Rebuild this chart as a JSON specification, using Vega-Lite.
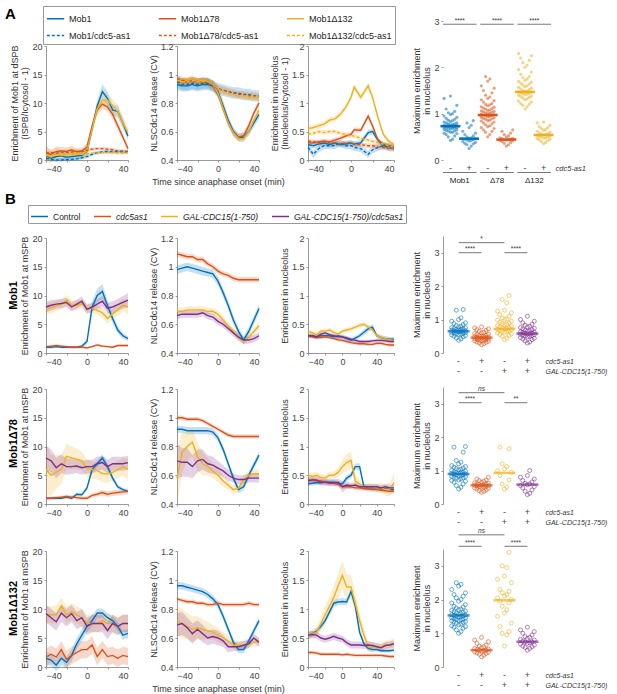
{
"$schema": "https://vega.github.io/schema/vega-lite/v6.json",
"padding": {"left": 5, "top": 5, "right": 2, "bottom": 2},
"background": "white",
"config": {
  "font": "Liberation Sans",
  "view": {"stroke": null},
  "axis": {"grid": false, "domainColor": "#7f7f7f", "domainWidth": 0.8, "tickColor": "#7f7f7f", "tickWidth": 0.8, "tickSize": 2, "labelColor": "#444444", "labelFontSize": 9, "labelPadding": 2, "titleColor": "#333333", "titleFontSize": 9, "titleFontWeight": "normal", "titlePadding": 2, "titleLineHeight": 10}
},
"datasets": {
"lines": [
{"p":"A1","s":"Mob1","t":[-40,-35,-30,-25,-20,-15,-10,-5,0,5,10,15,20,25,30,35,40],"m":[0.8,0.3,0.6,0.7,0.5,0.6,0.7,0.8,1.5,5.5,9.5,12.0,10.8,8.8,8.5,6.5,4.2],"e":[0.9,0.6,0.7,0.7,0.6,0.6,0.6,0.6,0.7,0.9,1.0,1.3,1.2,1.0,1.0,0.9,0.8]},
{"p":"A1","s":"Mob1Δ78","t":[-40,-35,-30,-25,-20,-15,-10,-5,0,5,10,15,20,25,30,35,40],"m":[1.2,1.0,1.5,1.6,1.5,1.8,1.4,1.6,2.3,6.0,8.8,9.8,9.3,8.0,6.0,4.0,2.0],"e":[1.2,0.8,0.8,0.7,0.7,0.7,0.6,0.6,0.6,0.7,0.8,0.8,0.8,0.8,0.7,0.6,0.5]},
{"p":"A1","s":"Mob1Δ132","t":[-40,-35,-30,-25,-20,-15,-10,-5,0,5,10,15,20,25,30,35,40],"m":[1.0,0.5,1.2,0.8,1.0,1.1,1.3,1.0,1.5,5.5,9.0,10.5,10.5,9.5,8.5,6.5,4.8],"e":[1.5,1.0,1.0,1.0,1.0,0.9,0.8,0.8,0.8,1.0,1.2,1.3,1.3,1.2,1.2,1.1,1.0]},
{"p":"A1","s":"Mob1/cdc5-as1","t":[-40,-35,-30,-25,-20,-15,-10,-5,0,5,10,15,20,25,30,35,40],"m":[0.3,0.1,0.0,0.0,0.1,0.1,0.2,0.4,0.6,1.0,1.3,1.4,1.5,1.4,1.5,1.4,1.4],"e":[0.3,0.3,0.3,0.3,0.3,0.3,0.3,0.3,0.3,0.3,0.3,0.3,0.3,0.3,0.3,0.3,0.3]},
{"p":"A1","s":"Mob1Δ78/cdc5-as1","t":[-40,-35,-30,-25,-20,-15,-10,-5,0,5,10,15,20,25,30,35,40],"m":[1.2,1.3,1.2,1.4,1.3,1.4,1.5,1.5,1.7,1.9,2.0,2.0,1.9,1.8,1.6,1.6,1.5],"e":[0.3,0.3,0.3,0.3,0.3,0.3,0.3,0.3,0.3,0.3,0.3,0.3,0.3,0.3,0.3,0.3,0.3]},
{"p":"A1","s":"Mob1Δ132/cdc5-as1","t":[-40,-35,-30,-25,-20,-15,-10,-5,0,5,10,15,20,25,30,35,40],"m":[0.8,0.8,0.9,0.9,1.0,1.0,1.0,1.0,1.1,1.2,1.2,1.3,1.3,1.3,1.2,1.2,1.3],"e":[0.3,0.3,0.3,0.3,0.3,0.3,0.3,0.3,0.3,0.3,0.3,0.3,0.3,0.3,0.3,0.3,0.3]},
{"p":"A2","s":"Mob1","t":[-40,-35,-30,-25,-20,-15,-10,-5,0,5,10,15,20,25,30,35,40],"m":[0.93,0.92,0.92,0.93,0.92,0.93,0.93,0.92,0.88,0.78,0.68,0.6,0.56,0.56,0.6,0.66,0.72],"e":[0.04,0.04,0.04,0.04,0.04,0.04,0.04,0.04,0.04,0.04,0.03,0.03,0.03,0.03,0.03,0.03,0.03]},
{"p":"A2","s":"Mob1Δ78","t":[-40,-35,-30,-25,-20,-15,-10,-5,0,5,10,15,20,25,30,35,40],"m":[0.96,0.95,0.95,0.96,0.95,0.95,0.94,0.92,0.86,0.76,0.66,0.59,0.56,0.57,0.64,0.73,0.8],"e":[0.025,0.025,0.025,0.025,0.025,0.025,0.025,0.025,0.025,0.025,0.025,0.025,0.025,0.025,0.025,0.025,0.025]},
{"p":"A2","s":"Mob1Δ132","t":[-40,-35,-30,-25,-20,-15,-10,-5,0,5,10,15,20,25,30,35,40],"m":[0.96,0.95,0.96,0.97,0.95,0.96,0.95,0.93,0.87,0.76,0.66,0.59,0.55,0.55,0.6,0.68,0.75],"e":[0.025,0.025,0.025,0.025,0.025,0.025,0.025,0.025,0.025,0.025,0.025,0.025,0.025,0.025,0.025,0.025,0.025]},
{"p":"A2","s":"Mob1/cdc5-as1","t":[-40,-35,-30,-25,-20,-15,-10,-5,0,5,10,15,20,25,30,35,40],"m":[0.95,0.93,0.93,0.94,0.93,0.94,0.94,0.92,0.9,0.89,0.88,0.87,0.87,0.86,0.86,0.85,0.85],"e":[0.04,0.04,0.04,0.04,0.04,0.04,0.04,0.04,0.04,0.04,0.04,0.04,0.04,0.04,0.04,0.04,0.04]},
{"p":"A2","s":"Mob1Δ78/cdc5-as1","t":[-40,-35,-30,-25,-20,-15,-10,-5,0,5,10,15,20,25,30,35,40],"m":[0.97,0.96,0.95,0.96,0.95,0.95,0.95,0.93,0.9,0.89,0.88,0.87,0.86,0.86,0.85,0.85,0.84],"e":[0.025,0.025,0.025,0.025,0.025,0.025,0.025,0.025,0.025,0.025,0.025,0.025,0.025,0.025,0.025,0.025,0.025]},
{"p":"A2","s":"Mob1Δ132/cdc5-as1","t":[-40,-35,-30,-25,-20,-15,-10,-5,0,5,10,15,20,25,30,35,40],"m":[0.96,0.95,0.95,0.96,0.95,0.95,0.95,0.93,0.9,0.88,0.87,0.86,0.85,0.85,0.84,0.84,0.84],"e":[0.025,0.025,0.025,0.025,0.025,0.025,0.025,0.025,0.025,0.025,0.025,0.025,0.025,0.025,0.025,0.025,0.025]},
{"p":"A3","s":"Mob1","t":[-40,-35,-30,-25,-20,-15,-10,-5,0,3,9,16,20,25,30,35,40],"m":[0.27,0.25,0.28,0.3,0.27,0.3,0.27,0.28,0.3,0.28,0.3,0.48,0.5,0.35,0.25,0.25,0.22],"e":[0.05,0.05,0.05,0.05,0.05,0.05,0.05,0.05,0.05,0.05,0.05,0.05,0.05,0.05,0.05,0.05,0.05]},
{"p":"A3","s":"Mob1Δ78","t":[-40,-35,-30,-25,-20,-15,-10,-5,0,3,9,16,20,25,30,35,40],"m":[0.3,0.3,0.32,0.33,0.32,0.35,0.38,0.42,0.45,0.53,0.52,0.77,0.6,0.35,0.28,0.25,0.23],"e":[0.04,0.04,0.04,0.04,0.04,0.04,0.04,0.04,0.04,0.04,0.04,0.05,0.05,0.04,0.04,0.04,0.04]},
{"p":"A3","s":"Mob1Δ132","t":[-40,-35,-30,-25,-20,-15,-10,-5,0,3,9,16,20,25,30,35,40],"m":[0.55,0.57,0.6,0.63,0.7,0.72,0.8,0.92,1.1,1.28,1.1,1.3,1.1,0.75,0.45,0.33,0.27],"e":[0.05,0.05,0.05,0.05,0.05,0.05,0.05,0.05,0.05,0.06,0.06,0.06,0.06,0.05,0.05,0.05,0.05]},
{"p":"A3","s":"Mob1/cdc5-as1","t":[-40,-35,-30,-25,-20,-15,-10,-5,0,3,9,16,20,25,30,35,40],"m":[0.22,0.1,0.2,0.25,0.25,0.25,0.3,0.25,0.25,0.22,0.2,0.1,0.18,0.22,0.25,0.22,0.2],"e":[0.06,0.06,0.06,0.06,0.06,0.06,0.06,0.06,0.06,0.06,0.06,0.06,0.06,0.06,0.06,0.06,0.06]},
{"p":"A3","s":"Mob1Δ78/cdc5-as1","t":[-40,-35,-30,-25,-20,-15,-10,-5,0,3,9,16,20,25,30,35,40],"m":[0.33,0.32,0.3,0.32,0.3,0.3,0.28,0.3,0.3,0.28,0.27,0.25,0.25,0.23,0.22,0.2,0.2],"e":[0.04,0.04,0.04,0.04,0.04,0.04,0.04,0.04,0.04,0.04,0.04,0.04,0.04,0.04,0.04,0.04,0.04]},
{"p":"A3","s":"Mob1Δ132/cdc5-as1","t":[-40,-35,-30,-25,-20,-15,-10,-5,0,3,9,16,20,25,30,35,40],"m":[0.45,0.47,0.5,0.48,0.5,0.5,0.47,0.45,0.43,0.42,0.38,0.35,0.33,0.3,0.28,0.25,0.22],"e":[0.04,0.04,0.04,0.04,0.04,0.04,0.04,0.04,0.04,0.04,0.04,0.04,0.04,0.04,0.04,0.04,0.04]},
{"p":"B11","s":"Control","t":[-40,-35,-30,-25,-20,-15,-10,-5,0,5,10,15,20,25,30,35,40],"m":[1.0,1.0,1.1,1.0,1.0,1.0,1.0,1.2,2.0,8.0,10.0,10.7,8.2,6.0,4.0,3.0,2.5],"e":[0.2,0.2,0.2,0.2,0.2,0.2,0.2,0.3,0.5,1.0,1.2,1.3,1.0,0.8,0.6,0.5,0.4]},
{"p":"B11","s":"cdc5as1","t":[-40,-35,-30,-25,-20,-15,-10,-5,0,5,10,15,20,25,30,35,40],"m":[1.1,1.2,1.3,1.2,1.1,1.0,1.0,1.0,0.9,1.1,1.4,1.2,1.1,1.0,1.3,1.3,1.3],"e":[0.2,0.2,0.2,0.2,0.2,0.2,0.2,0.2,0.2,0.2,0.2,0.2,0.2,0.2,0.2,0.2,0.2]},
{"p":"B11","s":"GAL-CDC15(1-750)","t":[-40,-35,-30,-25,-20,-15,-10,-5,0,5,10,15,20,25,30,35,40],"m":[7.6,7.9,8.2,8.5,9.2,8.3,8.3,8.6,7.8,7.8,7.4,7.0,6.0,6.8,7.5,8.3,8.0],"e":[1.0,1.0,0.9,0.9,0.9,0.9,0.8,0.8,0.8,0.8,0.8,0.9,0.9,0.9,1.0,1.1,1.2]},
{"p":"B11","s":"GAL-CDC15(1-750)/cdc5as1","t":[-40,-35,-30,-25,-20,-15,-10,-5,0,5,10,15,20,25,30,35,40],"m":[8.0,8.3,8.5,8.6,8.8,8.0,8.5,9.0,7.6,8.0,8.5,9.0,7.8,8.0,8.4,8.8,9.2],"e":[0.9,0.9,0.8,0.8,0.8,0.8,0.8,0.8,0.8,0.8,0.9,0.9,0.9,1.0,1.0,1.1,1.2]},
{"p":"B12","s":"Control","t":[-40,-35,-30,-25,-20,-15,-10,-5,0,5,10,15,20,25,30,35,40],"m":[0.98,0.99,1.0,0.99,0.98,0.97,0.96,0.95,0.9,0.82,0.73,0.63,0.55,0.49,0.55,0.63,0.71],"e":[0.03,0.03,0.03,0.03,0.03,0.03,0.03,0.03,0.03,0.03,0.03,0.03,0.03,0.03,0.03,0.03,0.03]},
{"p":"B12","s":"cdc5as1","t":[-40,-35,-30,-25,-20,-15,-10,-5,0,5,10,15,20,25,30,35,40],"m":[1.09,1.08,1.07,1.07,1.05,1.05,1.02,1.0,0.97,0.95,0.94,0.92,0.91,0.91,0.91,0.91,0.91],"e":[0.02,0.02,0.02,0.02,0.02,0.02,0.02,0.02,0.02,0.02,0.02,0.02,0.02,0.02,0.02,0.02,0.02]},
{"p":"B12","s":"GAL-CDC15(1-750)","t":[-40,-35,-30,-25,-20,-15,-10,-5,0,5,10,15,20,25,30,35,40],"m":[0.69,0.69,0.7,0.7,0.7,0.7,0.69,0.69,0.67,0.63,0.59,0.55,0.51,0.48,0.51,0.55,0.59],"e":[0.025,0.025,0.025,0.025,0.025,0.025,0.025,0.025,0.025,0.025,0.025,0.025,0.025,0.025,0.025,0.025,0.025]},
{"p":"B12","s":"GAL-CDC15(1-750)/cdc5as1","t":[-40,-35,-30,-25,-20,-15,-10,-5,0,5,10,15,20,25,30,35,40],"m":[0.66,0.67,0.67,0.67,0.67,0.68,0.66,0.65,0.62,0.6,0.57,0.54,0.51,0.49,0.49,0.5,0.52],"e":[0.025,0.025,0.025,0.025,0.025,0.025,0.025,0.025,0.025,0.025,0.025,0.025,0.025,0.025,0.025,0.025,0.025]},
{"p":"B13","s":"Control","t":[-40,-35,-30,-25,-20,-15,-10,-5,0,5,10,15,20,25,30,35,40,45,50,55,60],"m":[0.3,0.3,0.28,0.3,0.3,0.3,0.28,0.3,0.28,0.25,0.22,0.26,0.3,0.36,0.42,0.45,0.3,0.27,0.25,0.24,0.24],"e":[0.04,0.04,0.04,0.04,0.04,0.04,0.04,0.04,0.04,0.04,0.04,0.04,0.04,0.05,0.05,0.05,0.04,0.04,0.04,0.04,0.04]},
{"p":"B13","s":"cdc5as1","t":[-40,-35,-30,-25,-20,-15,-10,-5,0,5,10,15,20,25,30,35,40,45,50,55,60],"m":[0.3,0.28,0.27,0.27,0.28,0.27,0.25,0.23,0.22,0.2,0.18,0.17,0.16,0.16,0.15,0.15,0.17,0.17,0.15,0.14,0.14],"e":[0.03,0.03,0.03,0.03,0.03,0.03,0.03,0.03,0.03,0.03,0.03,0.03,0.03,0.03,0.03,0.03,0.03,0.03,0.03,0.03,0.03]},
{"p":"B13","s":"GAL-CDC15(1-750)","t":[-40,-35,-30,-25,-20,-15,-10,-5,0,5,10,15,20,25,30,35,40,45,50,55,60],"m":[0.38,0.35,0.32,0.38,0.38,0.4,0.36,0.33,0.38,0.4,0.42,0.45,0.48,0.5,0.45,0.4,0.3,0.27,0.25,0.23,0.22],"e":[0.04,0.04,0.04,0.04,0.04,0.04,0.04,0.04,0.04,0.04,0.04,0.04,0.04,0.04,0.04,0.04,0.04,0.04,0.04,0.04,0.04]},
{"p":"B13","s":"GAL-CDC15(1-750)/cdc5as1","t":[-40,-35,-30,-25,-20,-15,-10,-5,0,5,10,15,20,25,30,35,40,45,50,55,60],"m":[0.3,0.3,0.28,0.33,0.35,0.32,0.3,0.28,0.28,0.26,0.24,0.22,0.2,0.2,0.2,0.21,0.22,0.22,0.21,0.2,0.2],"e":[0.03,0.03,0.03,0.03,0.03,0.03,0.03,0.03,0.03,0.03,0.03,0.03,0.03,0.03,0.03,0.03,0.03,0.03,0.03,0.03,0.03]},
{"p":"B21","s":"Control","t":[-40,-35,-30,-25,-20,-15,-10,-5,0,5,10,15,20,25,30,35,40],"m":[1.0,1.0,1.0,1.0,1.2,1.0,1.7,1.6,2.8,6.0,7.0,8.0,6.5,4.5,3.0,2.5,2.2],"e":[0.2,0.2,0.2,0.2,0.3,0.3,0.3,0.3,0.4,0.6,0.6,0.6,0.6,0.5,0.4,0.3,0.3]},
{"p":"B21","s":"cdc5as1","t":[-40,-35,-30,-25,-20,-15,-10,-5,0,5,10,15,20,25,30,35,40],"m":[1.0,1.0,1.1,1.2,1.3,1.2,1.1,1.0,1.0,1.5,1.7,2.0,1.7,1.9,2.0,2.1,2.2],"e":[0.3,0.3,0.3,0.3,0.3,0.3,0.3,0.3,0.3,0.4,0.4,0.5,0.5,0.5,0.5,0.5,0.5]},
{"p":"B21","s":"GAL-CDC15(1-750)","t":[-40,-35,-30,-25,-20,-15,-10,-5,0,5,10,15,20,25,30,35,40],"m":[6.0,5.0,5.6,6.0,8.3,8.0,7.8,7.5,6.2,6.0,5.8,5.3,5.2,5.5,6.0,6.5,6.0],"e":[4.5,3.5,3.0,2.5,2.2,2.0,1.8,1.6,1.5,1.5,1.5,1.5,1.5,1.5,1.5,1.6,1.8]},
{"p":"B21","s":"GAL-CDC15(1-750)/cdc5as1","t":[-40,-35,-30,-25,-20,-15,-10,-5,0,5,10,15,20,25,30,35,40],"m":[8.0,7.5,6.3,7.0,6.5,6.5,6.6,6.3,6.5,6.5,7.0,7.2,6.5,7.0,7.0,7.0,7.2],"e":[2.2,2.0,1.8,1.6,1.4,1.3,1.2,1.2,1.2,1.2,1.2,1.2,1.2,1.2,1.2,1.2,1.2]},
{"p":"B22","s":"Control","t":[-40,-35,-30,-25,-20,-15,-10,-5,0,5,10,15,20,25,30,35,40],"m":[0.92,0.92,0.91,0.91,0.91,0.91,0.91,0.9,0.86,0.78,0.68,0.58,0.5,0.52,0.6,0.67,0.74],"e":[0.025,0.025,0.025,0.025,0.025,0.025,0.025,0.025,0.025,0.025,0.025,0.025,0.025,0.025,0.025,0.025,0.025]},
{"p":"B22","s":"cdc5as1","t":[-40,-35,-30,-25,-20,-15,-10,-5,0,5,10,15,20,25,30,35,40],"m":[1.0,1.0,0.99,0.99,0.99,0.98,0.96,0.94,0.92,0.9,0.88,0.87,0.87,0.87,0.87,0.87,0.87],"e":[0.015,0.015,0.015,0.015,0.015,0.015,0.015,0.015,0.015,0.015,0.015,0.015,0.015,0.015,0.015,0.015,0.015]},
{"p":"B22","s":"GAL-CDC15(1-750)","t":[-40,-35,-30,-25,-20,-15,-10,-5,0,5,10,15,20,25,30,35,40],"m":[0.58,0.76,0.8,0.83,0.73,0.68,0.66,0.63,0.6,0.56,0.53,0.5,0.51,0.57,0.6,0.61,0.61],"e":[0.2,0.14,0.1,0.1,0.1,0.08,0.06,0.05,0.05,0.04,0.03,0.03,0.03,0.03,0.03,0.03,0.03]},
{"p":"B22","s":"GAL-CDC15(1-750)/cdc5as1","t":[-40,-35,-30,-25,-20,-15,-10,-5,0,5,10,15,20,25,30,35,40],"m":[0.7,0.69,0.69,0.66,0.7,0.71,0.68,0.67,0.65,0.63,0.6,0.58,0.57,0.57,0.58,0.58,0.58],"e":[0.12,0.1,0.1,0.08,0.08,0.07,0.06,0.06,0.05,0.04,0.04,0.03,0.03,0.03,0.03,0.03,0.03]},
{"p":"B23","s":"Control","t":[-40,-35,-30,-25,-20,-15,-10,-5,0,5,10,15,20,25,30,35,40,45,50,55,60],"m":[0.35,0.36,0.37,0.37,0.38,0.38,0.38,0.36,0.35,0.45,0.5,0.65,0.65,0.3,0.28,0.28,0.28,0.27,0.26,0.25,0.25],"e":[0.04,0.04,0.04,0.04,0.04,0.04,0.04,0.04,0.04,0.05,0.05,0.06,0.06,0.04,0.04,0.04,0.04,0.04,0.04,0.04,0.04]},
{"p":"B23","s":"cdc5as1","t":[-40,-35,-30,-25,-20,-15,-10,-5,0,5,10,15,20,25,30,35,40,45,50,55,60],"m":[0.42,0.42,0.4,0.4,0.38,0.36,0.36,0.34,0.3,0.3,0.3,0.28,0.28,0.27,0.26,0.25,0.25,0.24,0.23,0.22,0.22],"e":[0.04,0.04,0.04,0.04,0.04,0.04,0.04,0.04,0.04,0.04,0.04,0.04,0.04,0.04,0.04,0.04,0.04,0.04,0.04,0.04,0.04]},
{"p":"B23","s":"GAL-CDC15(1-750)","t":[-40,-35,-30,-25,-20,-15,-10,-5,0,5,10,15,20,25,30,35,40,45,50,55,60],"m":[0.5,0.48,0.5,0.46,0.45,0.5,0.5,0.55,0.65,0.72,0.76,0.4,0.35,0.3,0.3,0.3,0.28,0.28,0.25,0.25,0.37],"e":[0.06,0.06,0.06,0.06,0.06,0.06,0.07,0.08,0.12,0.15,0.15,0.12,0.08,0.06,0.06,0.06,0.07,0.08,0.1,0.12,0.15]},
{"p":"B23","s":"GAL-CDC15(1-750)/cdc5as1","t":[-40,-35,-30,-25,-20,-15,-10,-5,0,5,10,15,20,25,30,35,40,45,50,55,60],"m":[0.4,0.42,0.42,0.38,0.38,0.37,0.37,0.38,0.3,0.33,0.32,0.33,0.3,0.3,0.3,0.3,0.3,0.28,0.3,0.28,0.28],"e":[0.06,0.06,0.06,0.06,0.06,0.06,0.06,0.06,0.1,0.06,0.05,0.05,0.05,0.05,0.05,0.05,0.05,0.05,0.05,0.05,0.05]},
{"p":"B31","s":"Control","t":[-40,-35,-30,-25,-20,-15,-10,-5,0,5,10,15,20,25,30,35,40],"m":[1.5,1.2,0.3,1.5,0.8,2.0,4.0,5.5,7.0,8.0,9.3,9.3,8.5,8.0,7.0,5.5,5.8],"e":[1.2,1.0,1.0,1.2,1.0,1.0,1.0,1.0,1.0,1.0,0.8,0.8,0.8,0.8,0.8,0.8,0.8]},
{"p":"B31","s":"cdc5as1","t":[-40,-35,-30,-25,-20,-15,-10,-5,0,5,10,15,20,25,30,35,40],"m":[1.7,2.2,1.7,3.0,1.3,2.0,2.5,3.0,3.0,3.8,1.8,3.0,1.8,2.0,1.5,2.0,1.8],"e":[1.5,1.5,1.5,1.5,1.5,1.5,1.5,1.5,1.5,1.5,1.5,1.5,1.5,1.5,1.5,1.5,1.5]},
{"p":"B31","s":"GAL-CDC15(1-750)","t":[-40,-35,-30,-25,-20,-15,-10,-5,0,5,10,15,20,25,30,35,40],"m":[9.0,9.0,9.0,10.5,9.0,9.5,9.0,8.5,7.5,7.5,7.5,8.0,7.5,7.5,7.0,7.5,7.5],"e":[1.5,1.5,1.5,1.5,1.5,1.5,1.5,1.5,1.5,1.5,1.5,1.5,1.5,1.5,1.5,1.5,1.5]},
{"p":"B31","s":"GAL-CDC15(1-750)/cdc5as1","t":[-40,-35,-30,-25,-20,-15,-10,-5,0,5,10,15,20,25,30,35,40],"m":[9.2,8.5,7.8,9.3,8.5,9.2,8.0,8.5,7.0,7.5,7.5,7.5,6.3,7.5,7.0,7.5,7.5],"e":[1.5,1.5,1.5,1.5,1.5,1.5,1.5,1.5,1.5,1.5,1.5,1.5,1.5,1.5,1.5,1.5,1.5]},
{"p":"B32","s":"Control","t":[-40,-35,-30,-25,-20,-15,-10,-5,0,5,10,15,20,25,30,35,40],"m":[0.96,0.96,0.95,0.94,0.93,0.92,0.9,0.87,0.83,0.75,0.66,0.57,0.52,0.52,0.58,0.65,0.72],"e":[0.025,0.025,0.025,0.025,0.025,0.025,0.025,0.025,0.025,0.025,0.025,0.025,0.025,0.025,0.025,0.025,0.025]},
{"p":"B32","s":"cdc5as1","t":[-40,-35,-30,-25,-20,-15,-10,-5,0,5,10,15,20,25,30,35,40],"m":[0.87,0.86,0.85,0.85,0.84,0.84,0.83,0.83,0.84,0.83,0.83,0.83,0.83,0.83,0.84,0.83,0.83],"e":[0.015,0.015,0.015,0.015,0.015,0.015,0.015,0.015,0.015,0.015,0.015,0.015,0.015,0.015,0.015,0.015,0.015]},
{"p":"B32","s":"GAL-CDC15(1-750)","t":[-40,-35,-30,-25,-20,-15,-10,-5,0,5,10,15,20,25,30,35,40],"m":[0.72,0.7,0.68,0.66,0.67,0.66,0.65,0.64,0.62,0.6,0.58,0.55,0.55,0.55,0.56,0.57,0.58],"e":[0.1,0.1,0.09,0.09,0.08,0.07,0.06,0.05,0.05,0.04,0.04,0.03,0.03,0.03,0.03,0.03,0.03]},
{"p":"B32","s":"GAL-CDC15(1-750)/cdc5as1","t":[-40,-35,-30,-25,-20,-15,-10,-5,0,5,10,15,20,25,30,35,40],"m":[0.69,0.7,0.67,0.63,0.66,0.63,0.6,0.61,0.6,0.58,0.54,0.54,0.54,0.55,0.56,0.6,0.57],"e":[0.08,0.08,0.07,0.07,0.06,0.06,0.05,0.05,0.05,0.04,0.04,0.03,0.03,0.03,0.03,0.03,0.03]},
{"p":"B33","s":"Control","t":[-40,-35,-30,-25,-20,-15,-10,-5,0,5,10,15,20,25,30,35,40,45,50,55,60],"m":[0.55,0.57,0.62,0.7,0.8,0.95,1.1,1.12,1.13,1.12,1.3,1.05,0.6,0.4,0.32,0.3,0.3,0.28,0.28,0.28,0.29],"e":[0.05,0.05,0.05,0.05,0.05,0.05,0.06,0.06,0.06,0.06,0.06,0.06,0.05,0.04,0.04,0.04,0.03,0.03,0.03,0.03,0.03]},
{"p":"B33","s":"cdc5as1","t":[-40,-35,-30,-25,-20,-15,-10,-5,0,5,10,15,20,25,30,35,40,45,50,55,60],"m":[0.25,0.25,0.24,0.22,0.22,0.22,0.22,0.22,0.21,0.22,0.21,0.2,0.2,0.2,0.2,0.2,0.2,0.2,0.19,0.18,0.18],"e":[0.03,0.03,0.03,0.03,0.03,0.03,0.03,0.03,0.03,0.03,0.03,0.03,0.03,0.03,0.03,0.03,0.03,0.03,0.03,0.03,0.03]},
{"p":"B33","s":"GAL-CDC15(1-750)","t":[-40,-35,-30,-25,-20,-15,-10,-5,0,5,10,15,20,25,30,35,40,45,50,55,60],"m":[0.55,0.57,0.6,0.75,0.9,1.05,1.2,1.4,1.58,1.38,1.38,1.1,0.8,0.55,0.35,0.35,0.35,0.35,0.38,0.38,0.4],"e":[0.08,0.08,0.1,0.12,0.15,0.17,0.2,0.22,0.25,0.22,0.2,0.18,0.15,0.12,0.1,0.08,0.07,0.07,0.07,0.08,0.1]},
{"p":"B33","s":"GAL-CDC15(1-750)/cdc5as1","t":[-40,-35,-30,-25,-20,-15,-10,-5,0,5,10,15,20,25,30,35,40,45,50,55,60],"m":[0.55,0.56,0.55,0.5,0.48,0.5,0.53,0.5,0.48,0.42,0.38,0.38,0.38,0.37,0.38,0.37,0.35,0.33,0.37,0.38,0.4],"e":[0.06,0.06,0.06,0.06,0.06,0.06,0.06,0.06,0.06,0.06,0.06,0.06,0.06,0.06,0.06,0.06,0.06,0.06,0.06,0.06,0.06]}
],
"stripA": [
{"k":"Mob1 -","g":"Mob1","mid":0.73,"v":[0.42,0.45,0.5,0.52,0.55,0.57,0.58,0.6,0.6,0.62,0.63,0.64,0.65,0.66,0.67,0.68,0.68,0.69,0.7,0.7,0.71,0.72,0.72,0.73,0.73,0.74,0.75,0.75,0.76,0.77,0.78,0.78,0.8,0.8,0.82,0.83,0.85,0.86,0.88,0.9,0.92,0.95,0.98,1.0,1.02,1.05,1.1,1.18,1.33,1.38]},
{"k":"Mob1 +","g":"Mob1","mid":0.46,"v":[0.25,0.3,0.33,0.35,0.36,0.38,0.4,0.41,0.42,0.43,0.44,0.45,0.46,0.46,0.47,0.48,0.5,0.52,0.55,0.58,0.62,0.7,0.75,0.8,0.85]},
{"k":"Δ78 -","g":"Δ78","mid":0.97,"v":[0.5,0.55,0.6,0.62,0.65,0.68,0.7,0.72,0.74,0.76,0.78,0.8,0.82,0.84,0.85,0.86,0.88,0.89,0.9,0.91,0.92,0.93,0.94,0.95,0.96,0.97,0.98,0.99,1.0,1.01,1.02,1.03,1.04,1.05,1.06,1.07,1.08,1.1,1.11,1.12,1.14,1.15,1.17,1.19,1.2,1.22,1.25,1.28,1.3,1.33,1.36,1.4,1.45,1.5,1.55,1.6,1.7,1.75,1.8]},
{"k":"Δ78 +","g":"Δ78","mid":0.44,"v":[0.3,0.33,0.36,0.38,0.4,0.41,0.42,0.43,0.44,0.44,0.45,0.46,0.47,0.48,0.5,0.52,0.55,0.58,0.62,0.65]},
{"k":"Δ132 -","g":"Δ132","mid":1.47,"v":[1.1,1.15,1.18,1.2,1.22,1.25,1.27,1.3,1.32,1.34,1.35,1.37,1.38,1.4,1.41,1.42,1.43,1.44,1.45,1.46,1.47,1.48,1.49,1.5,1.52,1.53,1.55,1.57,1.58,1.6,1.62,1.64,1.66,1.68,1.7,1.72,1.75,1.78,1.8,1.85,1.9,1.95,2.0,2.05,2.1,2.15,2.2,2.25,2.3]},
{"k":"Δ132 +","g":"Δ132","mid":0.54,"v":[0.35,0.38,0.4,0.42,0.44,0.45,0.46,0.47,0.48,0.5,0.5,0.51,0.52,0.53,0.54,0.55,0.56,0.57,0.58,0.6,0.62,0.64,0.66,0.68,0.7,0.72,0.75,0.8,0.82]}
],
"sigA": [
{"a":"Mob1 -","b":"Mob1 +","y":2.93,"lab":"****"},
{"a":"Δ78 -","b":"Δ78 +","y":2.93,"lab":"****"},
{"a":"Δ132 -","b":"Δ132 +","y":2.93,"lab":"****"}
],
"grpA": [
{"a":"Mob1 -","b":"Mob1 +","y":-0.27,"ty":-0.36,"lab":"Mob1"},
{"a":"Δ78 -","b":"Δ78 +","y":-0.27,"ty":-0.36,"lab":"Δ78"},
{"a":"Δ132 -","b":"Δ132 +","y":-0.27,"ty":-0.36,"lab":"Δ132"}
],
"stripB": [
{"r":"Mob1","k":"-/-","s":"Control","mid":0.65,"v":[0.38,0.42,0.45,0.48,0.5,0.52,0.54,0.55,0.56,0.58,0.59,0.6,0.61,0.62,0.63,0.64,0.65,0.65,0.66,0.67,0.68,0.69,0.7,0.7,0.72,0.73,0.75,0.76,0.78,0.8,0.82,0.85,0.88,0.9,0.95,1.0,1.05,1.28,1.3]},
{"r":"Mob1","k":"+/-","s":"cdc5as1","mid":0.46,"v":[0.25,0.28,0.3,0.32,0.33,0.35,0.36,0.37,0.38,0.39,0.4,0.41,0.42,0.43,0.44,0.45,0.45,0.46,0.47,0.48,0.49,0.5,0.5,0.52,0.53,0.55,0.56,0.58,0.6,0.62,0.65,0.68,0.7,0.72,0.75,0.78]},
{"r":"Mob1","k":"-/+","s":"GAL-CDC15(1-750)","mid":0.72,"v":[0.4,0.45,0.5,0.52,0.55,0.57,0.6,0.62,0.63,0.65,0.66,0.68,0.7,0.71,0.72,0.73,0.75,0.76,0.78,0.8,0.82,0.84,0.86,0.88,0.9,0.92,0.95,0.98,1.0,1.02,1.05,1.1,1.15,1.2,1.25,1.28,1.5,1.6,1.72]},
{"r":"Mob1","k":"+/+","s":"GAL-CDC15(1-750)/cdc5as1","mid":0.58,"v":[0.3,0.33,0.36,0.4,0.42,0.44,0.46,0.48,0.5,0.51,0.52,0.54,0.55,0.56,0.57,0.58,0.59,0.6,0.61,0.62,0.63,0.65,0.66,0.68,0.7,0.72,0.74,0.76,0.78,0.8,0.83,0.86,0.9,0.95,1.0,1.1]},
{"r":"Mob1Δ78","k":"-/-","s":"Control","mid":0.9,"v":[0.45,0.5,0.55,0.6,0.65,0.68,0.7,0.72,0.75,0.77,0.78,0.8,0.82,0.83,0.85,0.86,0.87,0.88,0.89,0.9,0.91,0.92,0.93,0.94,0.95,0.96,0.98,1.0,1.02,1.04,1.06,1.08,1.1,1.12,1.15,1.2,1.25,1.3,1.55,1.7,1.72]},
{"r":"Mob1Δ78","k":"+/-","s":"cdc5as1","mid":0.56,"v":[0.35,0.38,0.4,0.42,0.45,0.47,0.48,0.5,0.51,0.52,0.53,0.54,0.55,0.56,0.56,0.57,0.58,0.59,0.6,0.62,0.63,0.65,0.68,0.7,0.72,0.75,0.8]},
{"r":"Mob1Δ78","k":"-/+","s":"GAL-CDC15(1-750)","mid":0.93,"v":[0.45,0.5,0.6,0.72,0.85,0.95,1.0,1.05,1.12,1.2,1.65,1.7]},
{"r":"Mob1Δ78","k":"+/+","s":"GAL-CDC15(1-750)/cdc5as1","mid":0.58,"v":[0.28,0.32,0.38,0.42,0.48,0.52,0.55,0.58,0.6,0.62,0.66,0.7,0.75,0.8,0.85,1.0]},
{"r":"Mob1Δ132","k":"-/-","s":"Control","mid":1.53,"v":[1.0,1.05,1.1,1.15,1.18,1.2,1.22,1.25,1.27,1.3,1.32,1.34,1.35,1.37,1.38,1.4,1.41,1.42,1.44,1.45,1.46,1.48,1.5,1.51,1.52,1.53,1.54,1.55,1.56,1.58,1.6,1.62,1.64,1.66,1.68,1.7,1.72,1.75,1.78,1.8,1.85,1.9,1.95,2.0,2.05,2.1,2.15,2.2,2.3,2.4,2.45,2.5]},
{"r":"Mob1Δ132","k":"+/-","s":"cdc5as1","mid":0.5,"v":[0.3,0.35,0.38,0.4,0.42,0.44,0.45,0.47,0.48,0.5,0.5,0.52,0.53,0.55,0.57,0.6,0.62,0.65,0.7,0.75,0.8,0.88]},
{"r":"Mob1Δ132","k":"-/+","s":"GAL-CDC15(1-750)","mid":1.98,"v":[0.62,0.95,1.0,1.05,1.2,1.3,1.5,1.6,1.7,1.8,1.9,1.95,2.0,2.05,2.1,2.15,2.2,2.25,2.3,2.5,2.6,2.7,2.95,3.0,3.4]},
{"r":"Mob1Δ132","k":"+/+","s":"GAL-CDC15(1-750)/cdc5as1","mid":0.75,"v":[0.5,0.55,0.58,0.6,0.62,0.65,0.68,0.7,0.72,0.74,0.75,0.77,0.8,0.82,0.85,0.88,0.9,0.95,1.0,1.05,1.1,1.18]}
],
"sigB": [
{"r":"Mob1","a":"-/-","b":"-/+","y":3.3,"lab":"*","w":true},
{"r":"Mob1","a":"-/-","b":"+/-","y":3.0,"lab":"****","w":false},
{"r":"Mob1","a":"-/+","b":"+/+","y":3.0,"lab":"****","w":false},
{"r":"Mob1Δ78","a":"-/-","b":"-/+","y":3.33,"lab":"ns","w":true},
{"r":"Mob1Δ78","a":"-/-","b":"+/-","y":3.03,"lab":"****","w":false},
{"r":"Mob1Δ78","a":"-/+","b":"+/+","y":3.03,"lab":"**","w":false},
{"r":"Mob1Δ132","a":"-/-","b":"-/+","y":3.92,"lab":"ns","w":true},
{"r":"Mob1Δ132","a":"-/-","b":"+/-","y":3.58,"lab":"****","w":false},
{"r":"Mob1Δ132","a":"-/+","b":"+/+","y":3.58,"lab":"****","w":false}
]
},
"columns": 4,
"bounds": "flush",
"align": "each",
"spacing": {"row": 30, "column": 49},
"resolve": {"scale": {"x": "independent", "y": "independent", "color": "independent", "strokeDash": "independent", "xOffset": "independent"}},
"concat": [
  {
   "width": 82, "height": 139,
   "title": {"text": "A", "orient": "top", "anchor": "start", "frame": "group", "dx": -41, "dy": 16, "baseline": "top", "offset": 0, "fontSize": 15, "fontWeight": "bold"},
   "data": {"name": "lines"},
   "transform": [{"filter": "datum.p == 'A1'"}, {"flatten": ["t", "m", "e"]}],
   "encoding": {
     "x": {"field": "t", "type": "quantitative", "title": null, "scale": {"domain": [-40, 40], "nice": false}, "axis": {"values": [-40, -20, 0, 20, 40]}},
     "y": {"field": "m", "type": "quantitative", "title": ["Enrichment of Mob1 at dSPB", "(ISPB/Icytosol - 1)"], "scale": {"domain": [0, 20], "range": [139, 25], "nice": false, "zero": false}, "axis": {"values": [0, 5, 10, 15, 20]}},
     "color": {"field": "s", "type": "nominal", "scale": {"domain": ["Mob1", "Mob1Δ78", "Mob1Δ132", "Mob1/cdc5-as1", "Mob1Δ78/cdc5-as1", "Mob1Δ132/cdc5-as1"], "range": ["#0072BD", "#D95319", "#EDB120", "#0072BD", "#D95319", "#EDB120"]},
       "legend": {"orient": "none", "legendX": -3, "legendY": -15, "direction": "horizontal", "columns": 3, "title": null, "symbolType": "stroke", "symbolSize": 300, "symbolStrokeWidth": 1.5, "symbolOpacity": 1, "labelFontSize": 9, "labelColor": "#222222", "columnPadding": 24, "rowPadding": 2, "padding": 3, "strokeColor": "#999999", "labelLimit": 200}}
   },
   "layer": [
     {"mark": {"type": "errorband", "band": {"opacity": 0.22}}, "encoding": {"yError": {"field": "e"}}},
     {"mark": {"type": "line", "strokeWidth": 1.4}, "encoding": {"strokeDash": {"field": "s", "type": "nominal", "scale": {"domain": ["Mob1", "Mob1Δ78", "Mob1Δ132", "Mob1/cdc5-as1", "Mob1Δ78/cdc5-as1", "Mob1Δ132/cdc5-as1"], "range": [[1, 0], [1, 0], [1, 0], [3, 2], [3, 2], [3, 2]]},
       "legend": {"orient": "none", "legendX": -3, "legendY": -15, "direction": "horizontal", "columns": 3, "title": null, "symbolType": "stroke", "symbolSize": 300, "symbolStrokeWidth": 1.5, "symbolOpacity": 1, "labelFontSize": 9, "labelColor": "#222222", "columnPadding": 24, "rowPadding": 2, "padding": 3, "strokeColor": "#999999", "labelLimit": 200}}}}
   ]
  },
  {
   "width": 82, "height": 139,
   "data": {"name": "lines"},
   "transform": [{"filter": "datum.p == 'A2'"}, {"flatten": ["t", "m", "e"]}],
   "encoding": {
     "x": {"field": "t", "type": "quantitative", "title": "Time since anaphase onset (min)", "scale": {"domain": [-40, 40], "nice": false}, "axis": {"values": [-40, -20, 0, 20, 40], "titlePadding": 4}},
     "y": {"field": "m", "type": "quantitative", "title": "NLSCdc14 release (CV)", "scale": {"domain": [0.4, 1.2], "range": [139, 25], "nice": false, "zero": false}, "axis": {"values": [0.4, 0.6, 0.8, 1, 1.2], "format": "~g"}},
     "color": {"field": "s", "type": "nominal", "scale": {"domain": ["Mob1", "Mob1Δ78", "Mob1Δ132", "Mob1/cdc5-as1", "Mob1Δ78/cdc5-as1", "Mob1Δ132/cdc5-as1"], "range": ["#0072BD", "#D95319", "#EDB120", "#0072BD", "#D95319", "#EDB120"]}, "legend": null}
   },
   "layer": [
     {"mark": {"type": "errorband", "band": {"opacity": 0.22}}, "encoding": {"yError": {"field": "e"}}},
     {"mark": {"type": "line", "strokeWidth": 1.4}, "encoding": {"strokeDash": {"field": "s", "type": "nominal", "scale": {"domain": ["Mob1", "Mob1Δ78", "Mob1Δ132", "Mob1/cdc5-as1", "Mob1Δ78/cdc5-as1", "Mob1Δ132/cdc5-as1"], "range": [[1, 0], [1, 0], [1, 0], [3, 2], [3, 2], [3, 2]]}, "legend": null}}}
   ]
  },
  {
   "width": 86, "height": 139,
   "data": {"name": "lines"},
   "transform": [{"filter": "datum.p == 'A3'"}, {"flatten": ["t", "m", "e"]}],
   "encoding": {
     "x": {"field": "t", "type": "quantitative", "title": null, "scale": {"domain": [-40, 40], "nice": false}, "axis": {"values": [-40, -20, 0, 20, 40]}},
     "y": {"field": "m", "type": "quantitative", "title": ["Enrichment in nucleolus", "(Inucleolus/Icytosol - 1)"], "scale": {"domain": [0, 2], "range": [139, 25], "nice": false, "zero": false}, "axis": {"values": [0, 0.5, 1, 1.5, 2], "format": "~g"}},
     "color": {"field": "s", "type": "nominal", "scale": {"domain": ["Mob1", "Mob1Δ78", "Mob1Δ132", "Mob1/cdc5-as1", "Mob1Δ78/cdc5-as1", "Mob1Δ132/cdc5-as1"], "range": ["#0072BD", "#D95319", "#EDB120", "#0072BD", "#D95319", "#EDB120"]}, "legend": null}
   },
   "layer": [
     {"mark": {"type": "errorband", "band": {"opacity": 0.22}}, "encoding": {"yError": {"field": "e"}}},
     {"mark": {"type": "line", "strokeWidth": 1.4}, "encoding": {"strokeDash": {"field": "s", "type": "nominal", "scale": {"domain": ["Mob1", "Mob1Δ78", "Mob1Δ132", "Mob1/cdc5-as1", "Mob1Δ78/cdc5-as1", "Mob1Δ132/cdc5-as1"], "range": [[1, 0], [1, 0], [1, 0], [3, 2], [3, 2], [3, 2]]}, "legend": null}}}
   ]
  },
  {
   "width": 108, "height": 139,
   "layer": [
    {
     "data": {"name": "stripA"},
     "transform": [{"flatten": ["v"]}, {"window": [{"op": "row_number", "as": "r"}], "sort": [{"field": "v"}], "groupby": ["k"]}, {"calculate": "(datum.r - 1) % 7", "as": "j"}],
     "mark": {"type": "point", "filled": true, "size": 10, "opacity": 0.55},
     "encoding": {
       "x": {"field": "k", "type": "nominal", "title": "cdc5-as1", "scale": {"type": "band", "domain": ["Mob1 -", "Mob1 +", "Δ78 -", "Δ78 +", "Δ132 -", "Δ132 +"], "paddingInner": 0.2, "paddingOuter": 0}, "axis": {"labelExpr": "substring(datum.value, length(datum.value) - 1)", "labelAngle": 0, "ticks": false, "domain": false, "labelPadding": 3, "titleFontStyle": "italic", "titleFontSize": 7.5, "titleAngle": 0, "titleAlign": "left", "titleBaseline": "top", "titleX": 112, "titleY": 4}},
       "xOffset": {"field": "j", "type": "nominal", "scale": {"domain": [6, 4, 2, 0, 1, 3, 5]}},
       "y": {"field": "v", "type": "quantitative", "title": ["Maximum enrichment", "in nucleolus"], "scale": {"domain": [0, 3], "nice": false, "zero": false}, "axis": {"values": [0, 1, 2, 3], "format": "~g", "domain": false}},
       "color": {"field": "g", "type": "nominal", "scale": {"domain": ["Mob1", "Δ78", "Δ132"], "range": ["#0072BD", "#D95319", "#EDB120"]}, "legend": null}
     }
    },
    {
     "data": {"name": "stripA"},
     "mark": {"type": "tick", "thickness": 2.5, "size": 20, "opacity": 1},
     "encoding": {
       "x": {"field": "k", "type": "nominal", "title": "cdc5-as1"},
       "y": {"field": "mid", "type": "quantitative", "title": ["Maximum enrichment", "in nucleolus"]},
       "color": {"field": "g", "type": "nominal", "legend": null}
     }
    },
    {
     "data": {"name": "sigA"},
     "mark": {"type": "rule", "color": "#555555", "strokeWidth": 0.8},
     "encoding": {
       "x": {"field": "a", "type": "nominal", "bandPosition": 0, "title": "cdc5-as1"},
       "x2": {"field": "b", "bandPosition": 1},
       "y": {"field": "y", "type": "quantitative", "title": ["Maximum enrichment", "in nucleolus"]}
     }
    },
    {
     "data": {"name": "sigA"},
     "mark": {"type": "text", "fontSize": 6.5, "baseline": "bottom", "dy": -0.5, "color": "#333333"},
     "encoding": {
       "x": {"field": "a", "type": "nominal", "bandPosition": 1.125, "title": "cdc5-as1"},
       "y": {"field": "y", "type": "quantitative", "title": ["Maximum enrichment", "in nucleolus"]},
       "text": {"field": "lab"}
     }
    },
    {
     "data": {"name": "grpA"},
     "mark": {"type": "rule", "color": "#555555", "strokeWidth": 0.8},
     "encoding": {
       "x": {"field": "a", "type": "nominal", "bandPosition": 0, "title": "cdc5-as1"},
       "x2": {"field": "b", "bandPosition": 1},
       "y": {"field": "y", "type": "quantitative", "title": ["Maximum enrichment", "in nucleolus"]}
     }
    },
    {
     "data": {"name": "grpA"},
     "mark": {"type": "text", "fontSize": 8, "baseline": "top", "color": "#222222"},
     "encoding": {
       "x": {"field": "a", "type": "nominal", "bandPosition": 1.125, "title": "cdc5-as1"},
       "y": {"field": "ty", "type": "quantitative", "title": ["Maximum enrichment", "in nucleolus"]},
       "text": {"field": "lab"}
     }
    }
   ]
  },
  {
   "width": 82, "height": 163,
   "title": {"text": "Mob1", "orient": "left", "anchor": "middle", "frame": "group", "fontSize": 11, "fontWeight": "bold", "offset": 2, "dx": -24},
   "data": {"name": "lines"},
   "transform": [{"filter": "datum.p == 'B11'"}, {"flatten": ["t", "m", "e"]}],
   "encoding": {
     "x": {"field": "t", "type": "quantitative", "title": null, "scale": {"domain": [-40, 40], "nice": false}, "axis": {"values": [-40, -20, 0, 20, 40]}},
     "y": {"field": "m", "type": "quantitative", "title": "Enrichment of Mob1 at mSPB", "scale": {"domain": [0, 20], "range": [163, 48], "nice": false, "zero": false}, "axis": {"values": [0, 5, 10, 15, 20]}},
     "color": {"field": "s", "type": "nominal", "scale": {"domain": ["Control", "cdc5as1", "GAL-CDC15(1-750)", "GAL-CDC15(1-750)/cdc5as1"], "range": ["#0072BD", "#D95319", "#EDB120", "#7E2F8E"]},
       "legend": {"orient": "none", "legendX": -18, "legendY": 15, "direction": "horizontal", "columns": 4, "title": null, "symbolType": "stroke", "symbolSize": 289, "symbolStrokeWidth": 1.5, "symbolOpacity": 1, "labelFontSize": 8.5, "labelColor": "#222222", "columnPadding": 10, "padding": 2, "strokeColor": "#999999", "labelLimit": 200, "labelFontStyle": {"expr": "datum.value == 'Control' ? 'normal' : 'italic'"}}}
   },
   "layer": [
     {"mark": {"type": "errorband", "band": {"opacity": 0.22}}, "encoding": {"yError": {"field": "e"}}},
     {"mark": {"type": "line", "strokeWidth": 1.4}}
   ]
  },
  {
   "width": 82, "height": 163,
   "title": {"text": "B", "orient": "top", "anchor": "start", "frame": "group", "dx": -172, "dy": 62, "baseline": "bottom", "offset": 30, "fontSize": 15, "fontWeight": "bold"},
   "data": {"name": "lines"},
   "transform": [{"filter": "datum.p == 'B12'"}, {"flatten": ["t", "m", "e"]}],
   "encoding": {
     "x": {"field": "t", "type": "quantitative", "title": null, "scale": {"domain": [-40, 40], "nice": false}, "axis": {"values": [-40, -20, 0, 20, 40]}},
     "y": {"field": "m", "type": "quantitative", "title": "NLSCdc14 release (CV)", "scale": {"domain": [0.4, 1.2], "range": [163, 48], "nice": false, "zero": false}, "axis": {"values": [0.4, 0.6, 0.8, 1, 1.2], "format": "~g"}},
     "color": {"field": "s", "type": "nominal", "scale": {"domain": ["Control", "cdc5as1", "GAL-CDC15(1-750)", "GAL-CDC15(1-750)/cdc5as1"], "range": ["#0072BD", "#D95319", "#EDB120", "#7E2F8E"]}, "legend": null}
   },
   "layer": [
     {"mark": {"type": "errorband", "band": {"opacity": 0.22}}, "encoding": {"yError": {"field": "e"}}},
     {"mark": {"type": "line", "strokeWidth": 1.4}}
   ]
  },
  {
   "width": 86, "height": 163,
   "data": {"name": "lines"},
   "transform": [{"filter": "datum.p == 'B13'"}, {"flatten": ["t", "m", "e"]}],
   "encoding": {
     "x": {"field": "t", "type": "quantitative", "title": null, "scale": {"domain": [-40, 60], "nice": false}, "axis": {"values": [-40, -20, 0, 20, 40, 60]}},
     "y": {"field": "m", "type": "quantitative", "title": "Enrichment in nucleolus", "scale": {"domain": [0, 2], "range": [163, 48], "nice": false, "zero": false}, "axis": {"values": [0, 0.5, 1, 1.5, 2], "format": "~g"}},
     "color": {"field": "s", "type": "nominal", "scale": {"domain": ["Control", "cdc5as1", "GAL-CDC15(1-750)", "GAL-CDC15(1-750)/cdc5as1"], "range": ["#0072BD", "#D95319", "#EDB120", "#7E2F8E"]}, "legend": null}
   },
   "layer": [
     {"mark": {"type": "errorband", "band": {"opacity": 0.22}}, "encoding": {"yError": {"field": "e"}}},
     {"mark": {"type": "line", "strokeWidth": 1.4}}
   ]
  },
  {
   "width": 100, "height": 163,
   "layer": [
    {
     "data": {"name": "stripB"},
     "transform": [{"filter": "datum.r == 'Mob1'"}, {"flatten": ["v"]}, {"window": [{"op": "row_number", "as": "n"}], "sort": [{"field": "v"}], "groupby": ["k"]}, {"calculate": "(datum.n - 1) % 7", "as": "j"}],
     "mark": {"type": "point", "filled": false, "size": 16, "strokeWidth": 0.7, "opacity": 0.85},
     "encoding": {
       "x": {"field": "k", "type": "nominal", "title": ["cdc5-as1", "GAL-CDC15(1-750)"], "scale": {"type": "band", "domain": ["-/-", "+/-", "-/+", "+/+"], "paddingInner": 0.3, "paddingOuter": 0.33}, "axis": {"labelExpr": "split(datum.value, '/')", "labelAngle": 0, "labelLineHeight": 10, "ticks": false, "domain": false, "labelPadding": 3, "titleFontStyle": "italic", "titleFontSize": 7, "titleLineHeight": 10, "titleAngle": 0, "titleAlign": "left", "titleBaseline": "top", "titleX": 102, "titleY": 4}},
       "xOffset": {"field": "j", "type": "nominal", "scale": {"domain": [6, 4, 2, 0, 1, 3, 5]}},
       "y": {"field": "v", "type": "quantitative", "title": ["Maximum enrichment", "in nucleolus"], "scale": {"domain": [0, 3.5], "range": [163, 46], "nice": false, "zero": false}, "axis": {"values": [0, 1, 2, 3], "format": "~g"}},
       "color": {"field": "s", "type": "nominal", "scale": {"domain": ["Control", "cdc5as1", "GAL-CDC15(1-750)", "GAL-CDC15(1-750)/cdc5as1"], "range": ["#0072BD", "#D95319", "#EDB120", "#7E2F8E"]}, "legend": null}
     }
    },
    {
     "data": {"name": "stripB"},
     "transform": [{"filter": "datum.r == 'Mob1'"}],
     "mark": {"type": "tick", "thickness": 2.5, "size": 22},
     "encoding": {
       "x": {"field": "k", "type": "nominal", "title": ["cdc5-as1", "GAL-CDC15(1-750)"]},
       "y": {"field": "mid", "type": "quantitative", "title": ["Maximum enrichment", "in nucleolus"]},
       "color": {"field": "s", "type": "nominal", "legend": null}
     }
    },
    {
     "data": {"name": "sigB"},
     "transform": [{"filter": "datum.r == 'Mob1'"}],
     "mark": {"type": "rule", "color": "#555555", "strokeWidth": 0.8},
     "encoding": {
       "x": {"field": "a", "type": "nominal", "title": ["cdc5-as1", "GAL-CDC15(1-750)"]},
       "x2": {"field": "b"},
       "y": {"field": "y", "type": "quantitative", "title": ["Maximum enrichment", "in nucleolus"]}
     }
    },
    {
     "data": {"name": "sigB"},
     "transform": [{"filter": "datum.r == 'Mob1' && !datum.w"}],
     "mark": {"type": "text", "fontSize": 6.5, "baseline": "bottom", "dy": -0.5, "color": "#333333"},
     "encoding": {
       "x": {"field": "a", "type": "nominal", "bandPosition": 1.214, "title": ["cdc5-as1", "GAL-CDC15(1-750)"]},
       "y": {"field": "y", "type": "quantitative", "title": ["Maximum enrichment", "in nucleolus"]},
       "text": {"field": "lab"}
     }
    },
    {
     "data": {"name": "sigB"},
     "transform": [{"filter": "datum.r == 'Mob1' && datum.w"}],
     "mark": {"type": "text", "fontSize": 6.5, "baseline": "bottom", "dy": -0.5, "color": "#333333"},
     "encoding": {
       "x": {"field": "a", "type": "nominal", "bandPosition": 1.929, "title": ["cdc5-as1", "GAL-CDC15(1-750)"]},
       "y": {"field": "y", "type": "quantitative", "title": ["Maximum enrichment", "in nucleolus"]},
       "text": {"field": "lab"}
     }
    }
   ]
  },
  {
   "width": 82, "height": 121,
   "title": {"text": "Mob1Δ78", "orient": "left", "anchor": "middle", "frame": "group", "fontSize": 11, "fontWeight": "bold", "offset": 2},
   "data": {"name": "lines"},
   "transform": [{"filter": "datum.p == 'B21'"}, {"flatten": ["t", "m", "e"]}],
   "encoding": {
     "x": {"field": "t", "type": "quantitative", "title": null, "scale": {"domain": [-40, 40], "nice": false}, "axis": {"values": [-40, -20, 0, 20, 40]}},
     "y": {"field": "m", "type": "quantitative", "title": "Enrichment of Mob1 at mSPB", "scale": {"domain": [0, 20], "range": [121, 6], "nice": false, "zero": false}, "axis": {"values": [0, 5, 10, 15, 20]}},
     "color": {"field": "s", "type": "nominal", "scale": {"domain": ["Control", "cdc5as1", "GAL-CDC15(1-750)", "GAL-CDC15(1-750)/cdc5as1"], "range": ["#0072BD", "#D95319", "#EDB120", "#7E2F8E"]}, "legend": null}
   },
   "layer": [
     {"mark": {"type": "errorband", "band": {"opacity": 0.22}}, "encoding": {"yError": {"field": "e"}}},
     {"mark": {"type": "line", "strokeWidth": 1.4}}
   ]
  },
  {
   "width": 82, "height": 121,
   "data": {"name": "lines"},
   "transform": [{"filter": "datum.p == 'B22'"}, {"flatten": ["t", "m", "e"]}],
   "encoding": {
     "x": {"field": "t", "type": "quantitative", "title": null, "scale": {"domain": [-40, 40], "nice": false}, "axis": {"values": [-40, -20, 0, 20, 40]}},
     "y": {"field": "m", "type": "quantitative", "title": "NLSCdc14 release (CV)", "scale": {"domain": [0.4, 1.2], "range": [121, 6], "nice": false, "zero": false}, "axis": {"values": [0.4, 0.6, 0.8, 1, 1.2], "format": "~g"}},
     "color": {"field": "s", "type": "nominal", "scale": {"domain": ["Control", "cdc5as1", "GAL-CDC15(1-750)", "GAL-CDC15(1-750)/cdc5as1"], "range": ["#0072BD", "#D95319", "#EDB120", "#7E2F8E"]}, "legend": null}
   },
   "layer": [
     {"mark": {"type": "errorband", "band": {"opacity": 0.22}}, "encoding": {"yError": {"field": "e"}}},
     {"mark": {"type": "line", "strokeWidth": 1.4}}
   ]
  },
  {
   "width": 86, "height": 121,
   "data": {"name": "lines"},
   "transform": [{"filter": "datum.p == 'B23'"}, {"flatten": ["t", "m", "e"]}],
   "encoding": {
     "x": {"field": "t", "type": "quantitative", "title": null, "scale": {"domain": [-40, 60], "nice": false}, "axis": {"values": [-40, -20, 0, 20, 40, 60]}},
     "y": {"field": "m", "type": "quantitative", "title": "Enrichment in nucleolus", "scale": {"domain": [0, 2], "range": [121, 6], "nice": false, "zero": false}, "axis": {"values": [0, 0.5, 1, 1.5, 2], "format": "~g"}},
     "color": {"field": "s", "type": "nominal", "scale": {"domain": ["Control", "cdc5as1", "GAL-CDC15(1-750)", "GAL-CDC15(1-750)/cdc5as1"], "range": ["#0072BD", "#D95319", "#EDB120", "#7E2F8E"]}, "legend": null}
   },
   "layer": [
     {"mark": {"type": "errorband", "band": {"opacity": 0.22}}, "encoding": {"yError": {"field": "e"}}},
     {"mark": {"type": "line", "strokeWidth": 1.4}}
   ]
  },
  {
   "width": 100, "height": 121,
   "layer": [
    {
     "data": {"name": "stripB"},
     "transform": [{"filter": "datum.r == 'Mob1Δ78'"}, {"flatten": ["v"]}, {"window": [{"op": "row_number", "as": "n"}], "sort": [{"field": "v"}], "groupby": ["k"]}, {"calculate": "(datum.n - 1) % 7", "as": "j"}],
     "mark": {"type": "point", "filled": false, "size": 16, "strokeWidth": 0.7, "opacity": 0.85},
     "encoding": {
       "x": {"field": "k", "type": "nominal", "title": ["cdc5-as1", "GAL-CDC15(1-750)"], "scale": {"type": "band", "domain": ["-/-", "+/-", "-/+", "+/+"], "paddingInner": 0.3, "paddingOuter": 0.33}, "axis": {"labelExpr": "split(datum.value, '/')", "labelAngle": 0, "labelLineHeight": 10, "ticks": false, "domain": false, "labelPadding": 3, "titleFontStyle": "italic", "titleFontSize": 7, "titleLineHeight": 10, "titleAngle": 0, "titleAlign": "left", "titleBaseline": "top", "titleX": 102, "titleY": 4}},
       "xOffset": {"field": "j", "type": "nominal", "scale": {"domain": [6, 4, 2, 0, 1, 3, 5]}},
       "y": {"field": "v", "type": "quantitative", "title": ["Maximum enrichment", "in nucleolus"], "scale": {"domain": [0, 3.5], "range": [121, 4], "nice": false, "zero": false}, "axis": {"values": [0, 1, 2, 3], "format": "~g"}},
       "color": {"field": "s", "type": "nominal", "scale": {"domain": ["Control", "cdc5as1", "GAL-CDC15(1-750)", "GAL-CDC15(1-750)/cdc5as1"], "range": ["#0072BD", "#D95319", "#EDB120", "#7E2F8E"]}, "legend": null}
     }
    },
    {
     "data": {"name": "stripB"},
     "transform": [{"filter": "datum.r == 'Mob1Δ78'"}],
     "mark": {"type": "tick", "thickness": 2.5, "size": 22},
     "encoding": {
       "x": {"field": "k", "type": "nominal", "title": ["cdc5-as1", "GAL-CDC15(1-750)"]},
       "y": {"field": "mid", "type": "quantitative", "title": ["Maximum enrichment", "in nucleolus"]},
       "color": {"field": "s", "type": "nominal", "legend": null}
     }
    },
    {
     "data": {"name": "sigB"},
     "transform": [{"filter": "datum.r == 'Mob1Δ78'"}],
     "mark": {"type": "rule", "color": "#555555", "strokeWidth": 0.8},
     "encoding": {
       "x": {"field": "a", "type": "nominal", "title": ["cdc5-as1", "GAL-CDC15(1-750)"]},
       "x2": {"field": "b"},
       "y": {"field": "y", "type": "quantitative", "title": ["Maximum enrichment", "in nucleolus"]}
     }
    },
    {
     "data": {"name": "sigB"},
     "transform": [{"filter": "datum.r == 'Mob1Δ78' && !datum.w"}],
     "mark": {"type": "text", "fontSize": 6.5, "baseline": "bottom", "dy": -0.5, "color": "#333333"},
     "encoding": {
       "x": {"field": "a", "type": "nominal", "bandPosition": 1.214, "title": ["cdc5-as1", "GAL-CDC15(1-750)"]},
       "y": {"field": "y", "type": "quantitative", "title": ["Maximum enrichment", "in nucleolus"]},
       "text": {"field": "lab"}
     }
    },
    {
     "data": {"name": "sigB"},
     "transform": [{"filter": "datum.r == 'Mob1Δ78' && datum.w"}],
     "mark": {"type": "text", "fontSize": 6.5, "baseline": "bottom", "dy": -0.5, "color": "#333333", "fontStyle": "italic"},
     "encoding": {
       "x": {"field": "a", "type": "nominal", "bandPosition": 1.929, "title": ["cdc5-as1", "GAL-CDC15(1-750)"]},
       "y": {"field": "y", "type": "quantitative", "title": ["Maximum enrichment", "in nucleolus"]},
       "text": {"field": "lab"}
     }
    }
   ]
  },
  {
   "width": 82, "height": 133,
   "title": {"text": "Mob1Δ132", "orient": "left", "anchor": "middle", "frame": "group", "fontSize": 11, "fontWeight": "bold", "offset": 2, "dx": -8},
   "data": {"name": "lines"},
   "transform": [{"filter": "datum.p == 'B31'"}, {"flatten": ["t", "m", "e"]}],
   "encoding": {
     "x": {"field": "t", "type": "quantitative", "title": null, "scale": {"domain": [-40, 40], "nice": false}, "axis": {"values": [-40, -20, 0, 20, 40]}},
     "y": {"field": "m", "type": "quantitative", "title": "Enrichment of Mob1 at mSPB", "scale": {"domain": [0, 20], "range": [133, 17], "nice": false, "zero": false}, "axis": {"values": [0, 5, 10, 15, 20]}},
     "color": {"field": "s", "type": "nominal", "scale": {"domain": ["Control", "cdc5as1", "GAL-CDC15(1-750)", "GAL-CDC15(1-750)/cdc5as1"], "range": ["#0072BD", "#D95319", "#EDB120", "#7E2F8E"]}, "legend": null}
   },
   "layer": [
     {"mark": {"type": "errorband", "band": {"opacity": 0.22}}, "encoding": {"yError": {"field": "e"}}},
     {"mark": {"type": "line", "strokeWidth": 1.4}}
   ]
  },
  {
   "width": 82, "height": 133,
   "data": {"name": "lines"},
   "transform": [{"filter": "datum.p == 'B32'"}, {"flatten": ["t", "m", "e"]}],
   "encoding": {
     "x": {"field": "t", "type": "quantitative", "title": "Time since anaphase onset (min)", "scale": {"domain": [-40, 40], "nice": false}, "axis": {"values": [-40, -20, 0, 20, 40], "titlePadding": 4}},
     "y": {"field": "m", "type": "quantitative", "title": "NLSCdc14 release (CV)", "scale": {"domain": [0.4, 1.2], "range": [133, 17], "nice": false, "zero": false}, "axis": {"values": [0.4, 0.6, 0.8, 1, 1.2], "format": "~g"}},
     "color": {"field": "s", "type": "nominal", "scale": {"domain": ["Control", "cdc5as1", "GAL-CDC15(1-750)", "GAL-CDC15(1-750)/cdc5as1"], "range": ["#0072BD", "#D95319", "#EDB120", "#7E2F8E"]}, "legend": null}
   },
   "layer": [
     {"mark": {"type": "errorband", "band": {"opacity": 0.22}}, "encoding": {"yError": {"field": "e"}}},
     {"mark": {"type": "line", "strokeWidth": 1.4}}
   ]
  },
  {
   "width": 86, "height": 133,
   "data": {"name": "lines"},
   "transform": [{"filter": "datum.p == 'B33'"}, {"flatten": ["t", "m", "e"]}],
   "encoding": {
     "x": {"field": "t", "type": "quantitative", "title": null, "scale": {"domain": [-40, 60], "nice": false}, "axis": {"values": [-40, -20, 0, 20, 40, 60]}},
     "y": {"field": "m", "type": "quantitative", "title": "Enrichment in nucleolus", "scale": {"domain": [0, 2], "range": [133, 17], "nice": false, "zero": false}, "axis": {"values": [0, 0.5, 1, 1.5, 2], "format": "~g"}},
     "color": {"field": "s", "type": "nominal", "scale": {"domain": ["Control", "cdc5as1", "GAL-CDC15(1-750)", "GAL-CDC15(1-750)/cdc5as1"], "range": ["#0072BD", "#D95319", "#EDB120", "#7E2F8E"]}, "legend": null}
   },
   "layer": [
     {"mark": {"type": "errorband", "band": {"opacity": 0.22}}, "encoding": {"yError": {"field": "e"}}},
     {"mark": {"type": "line", "strokeWidth": 1.4}}
   ]
  },
  {
   "width": 100, "height": 133,
   "layer": [
    {
     "data": {"name": "stripB"},
     "transform": [{"filter": "datum.r == 'Mob1Δ132'"}, {"flatten": ["v"]}, {"window": [{"op": "row_number", "as": "n"}], "sort": [{"field": "v"}], "groupby": ["k"]}, {"calculate": "(datum.n - 1) % 7", "as": "j"}],
     "mark": {"type": "point", "filled": false, "size": 16, "strokeWidth": 0.7, "opacity": 0.85},
     "encoding": {
       "x": {"field": "k", "type": "nominal", "title": ["cdc5-as1", "GAL-CDC15(1-750)"], "scale": {"type": "band", "domain": ["-/-", "+/-", "-/+", "+/+"], "paddingInner": 0.3, "paddingOuter": 0.33}, "axis": {"labelExpr": "split(datum.value, '/')", "labelAngle": 0, "labelLineHeight": 10, "ticks": false, "domain": false, "labelPadding": 3, "titleFontStyle": "italic", "titleFontSize": 7, "titleLineHeight": 10, "titleAngle": 0, "titleAlign": "left", "titleBaseline": "top", "titleX": 102, "titleY": 4}},
       "xOffset": {"field": "j", "type": "nominal", "scale": {"domain": [6, 4, 2, 0, 1, 3, 5]}},
       "y": {"field": "v", "type": "quantitative", "title": ["Maximum enrichment", "in nucleolus"], "scale": {"domain": [0, 3.5], "range": [133, 15], "nice": false, "zero": false}, "axis": {"values": [0, 1, 2, 3], "format": "~g"}},
       "color": {"field": "s", "type": "nominal", "scale": {"domain": ["Control", "cdc5as1", "GAL-CDC15(1-750)", "GAL-CDC15(1-750)/cdc5as1"], "range": ["#0072BD", "#D95319", "#EDB120", "#7E2F8E"]}, "legend": null}
     }
    },
    {
     "data": {"name": "stripB"},
     "transform": [{"filter": "datum.r == 'Mob1Δ132'"}],
     "mark": {"type": "tick", "thickness": 2.5, "size": 22},
     "encoding": {
       "x": {"field": "k", "type": "nominal", "title": ["cdc5-as1", "GAL-CDC15(1-750)"]},
       "y": {"field": "mid", "type": "quantitative", "title": ["Maximum enrichment", "in nucleolus"]},
       "color": {"field": "s", "type": "nominal", "legend": null}
     }
    },
    {
     "data": {"name": "sigB"},
     "transform": [{"filter": "datum.r == 'Mob1Δ132'"}],
     "mark": {"type": "rule", "color": "#555555", "strokeWidth": 0.8},
     "encoding": {
       "x": {"field": "a", "type": "nominal", "title": ["cdc5-as1", "GAL-CDC15(1-750)"]},
       "x2": {"field": "b"},
       "y": {"field": "y", "type": "quantitative", "title": ["Maximum enrichment", "in nucleolus"]}
     }
    },
    {
     "data": {"name": "sigB"},
     "transform": [{"filter": "datum.r == 'Mob1Δ132' && !datum.w"}],
     "mark": {"type": "text", "fontSize": 6.5, "baseline": "bottom", "dy": -0.5, "color": "#333333"},
     "encoding": {
       "x": {"field": "a", "type": "nominal", "bandPosition": 1.214, "title": ["cdc5-as1", "GAL-CDC15(1-750)"]},
       "y": {"field": "y", "type": "quantitative", "title": ["Maximum enrichment", "in nucleolus"]},
       "text": {"field": "lab"}
     }
    },
    {
     "data": {"name": "sigB"},
     "transform": [{"filter": "datum.r == 'Mob1Δ132' && datum.w"}],
     "mark": {"type": "text", "fontSize": 6.5, "baseline": "bottom", "dy": -0.5, "color": "#333333", "fontStyle": "italic"},
     "encoding": {
       "x": {"field": "a", "type": "nominal", "bandPosition": 1.929, "title": ["cdc5-as1", "GAL-CDC15(1-750)"]},
       "y": {"field": "y", "type": "quantitative", "title": ["Maximum enrichment", "in nucleolus"]},
       "text": {"field": "lab"}
     }
    }
   ]
  }
]
}
